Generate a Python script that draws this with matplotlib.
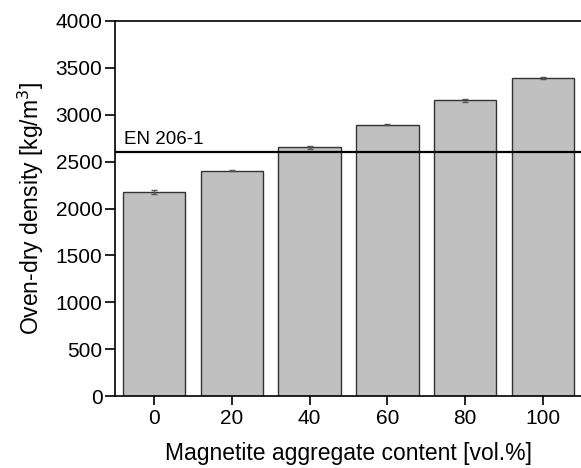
import matplotlib
matplotlib.use("Agg")
import matplotlib.pyplot as plt

content = [0, 20, 40, 60, 80, 100]
density = [2180, 2405, 2655, 2893, 3153, 3395]
errors = [22, 8, 15, 5, 12, 12]
en_limit = 2600

plt.rcParams['font.family'] = ['Liberation Sans', 'DejaVu Sans']

fig = plt.figure(figsize=(5.81, 4.68), dpi=100)
ax = fig.add_axes([115/581, 1-396/468, 467/581, 375/468])

ax.bar(content, density, width=16, color='#c0c0c0', edgecolor='#333333', linewidth=1.0, zorder=2)
ax.errorbar(content, density, yerr=errors, fmt='none', ecolor='#555555', elinewidth=1, capsize=2.5, capthick=1, zorder=3)
ax.axhline(en_limit, color='black', linewidth=1.6, zorder=4)
ax.text(-7.7, en_limit + 40, 'EN 206-1', fontsize=13.5, ha='left', va='bottom')

ax.set_xlim(-10, 110)
ax.set_ylim(0, 4000)
ax.set_xticks(content)
ax.set_yticks(range(0, 4001, 500))
ax.spines['right'].set_visible(False)
for s in ['left', 'bottom', 'top']:
    ax.spines[s].set_linewidth(1.2)
ax.tick_params(axis='y', direction='out', length=7, width=1.2, labelsize=15, pad=2)
ax.tick_params(axis='x', direction='out', length=6.5, width=1.2, labelsize=15, pad=3)
ax.set_xlabel('Magnetite aggregate content [vol.%]', fontsize=16.5, labelpad=10)
ax.set_ylabel('Oven-dry density [kg/m$^3$]', fontsize=16.5, labelpad=7)

fig.savefig('out.png', dpi=100)
